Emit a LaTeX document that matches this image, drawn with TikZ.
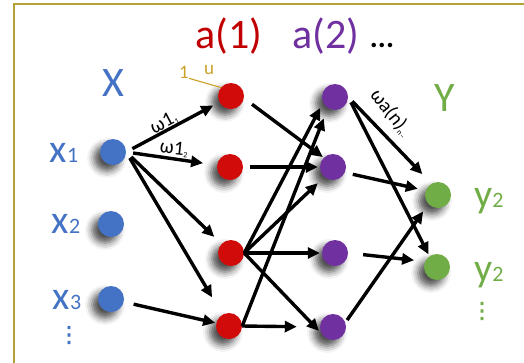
\documentclass[tikz,border=0pt]{standalone}
\usepackage{fontspec}
\setmainfont{Carlito}
\newfontfamily\dotsfont{DejaVu Sans}[FakeBold=2]
\usetikzlibrary{arrows.meta,shadows.blur}
\definecolor{NetBlue}{HTML}{4472C4}
\definecolor{NetRed}{HTML}{C00000}
\definecolor{NetDotRed}{HTML}{D10A0A}
\definecolor{NetPurple}{HTML}{7030A0}
\definecolor{NetGreen}{HTML}{70AD47}
\definecolor{NetGold}{HTML}{C9A227}
\definecolor{NetFrame}{HTML}{B5A136}
\tikzset{
  every node/.style={font=\normalsize},
  neuron/.style={circle, minimum size=26pt, inner sep=0pt,
    blur shadow={shadow xshift=-6pt, shadow yshift=-6pt, shadow blur radius=7pt, shadow opacity=70}},
  layer/.style={font=\fontsize{42}{42}\selectfont, inner sep=0pt},
  side/.style={font=\fontsize{40}{40}\selectfont, inner sep=0pt},
  vdotsnode/.style={font=\dotsfont\fontsize{22}{22}\selectfont, inner sep=0pt},
  weight/.style={font=\fontsize{20}{20}\selectfont, inner sep=0pt, text=black},
  link/.style={-{Triangle[length=12pt,width=11pt]}, draw=black, line width=3.4pt},
}
\newcommand{\smallidx}[1]{{\fontsize{22}{22}\selectfont #1}}
\newcommand{\tinyidx}[1]{\raisebox{-2pt}{\fontsize{8}{8}\selectfont #1}}

\begin{document}
\begin{tikzpicture}[x=1pt,y=-1pt]
  \useasboundingbox (0,0) rectangle (524,362);
  \draw[NetFrame, line width=1.6pt] (530,4) -- (14,4) -- (14,370);
  % input layer X
  \node[neuron, fill=NetBlue] (x1) at (113,152) {};
  \node[neuron, fill=NetBlue] (x2) at (111,224) {};
  \node[neuron, fill=NetBlue] (x3) at (111,299) {};
  \node[layer, text=NetBlue] (xhead) at (113,83) {X};
  \node[side, text=NetBlue, anchor=base] (xlab1) at (64,162) {x\smallidx{1}};
  \node[side, text=NetBlue, anchor=base] (xlab2) at (66,233) {x\smallidx{2}};
  \node[side, text=NetBlue, anchor=base] (xlab3) at (67,309) {x\smallidx{3}};
  \node[vdotsnode, text=NetBlue] (xmore) at (69,335) {⋮};
  % hidden layer a(1)
  \node[neuron, fill=NetDotRed] (r1) at (231,96) {};
  \node[neuron, fill=NetDotRed] (r2) at (230,167) {};
  \node[neuron, fill=NetDotRed] (r3) at (231,253) {};
  \node[neuron, fill=NetDotRed] (r4) at (229,326) {};
  \node[layer, text=NetRed, anchor=base] (rhead) at (229,48) {a(1)};
  \node[font=\fontsize{19}{19}\selectfont, text=NetGold, inner sep=0pt] (one) at (184,72) {1};
  \node[font=\fontsize{19}{19}\selectfont, text=NetGold, inner sep=0pt] (unit) at (209,70) {u};
  \draw[NetGold, line width=1.1pt] (one.south east) -- (r1.140);
  % hidden layer a(2)
  \node[neuron, fill=NetPurple] (p1) at (335,97) {};
  \node[neuron, fill=NetPurple] (p2) at (333,167) {};
  \node[neuron, fill=NetPurple] (p3) at (335,253) {};
  \node[neuron, fill=NetPurple] (p4) at (333,327) {};
  \node[layer, text=NetPurple, anchor=base] (phead) at (326,48) {a(2)};
  \node[font=\fontsize{30}{30}\selectfont\bfseries, anchor=base, inner sep=0pt] (pmore) at (382,47) {...};
  % output layer Y
  \node[neuron, fill=NetGreen] (g1) at (438,195) {};
  \node[neuron, fill=NetGreen] (g2) at (437,267) {};
  \node[layer, text=NetGreen] (yhead) at (445,98) {Y};
  \node[side, text=NetGreen, anchor=base] (ylab1) at (489,207) {y\smallidx{2}};
  \node[side, text=NetGreen, anchor=base] (ylab2) at (489,281) {y\smallidx{2}};
  \node[vdotsnode, text=NetGreen] (ymore) at (482,311) {⋮};
  % X -> a(1)
  \draw[link, shorten <=7pt, shorten >=7pt] (x1.east) -- (r1);
  \draw[link, shorten <=7pt, shorten >=14pt] (x1.east) -- (r2);
  \draw[link, shorten <=7pt, shorten >=10pt] (x1.east) -- (r3);
  \draw[link, shorten <=7pt, shorten >=20pt] (x1.east) -- (r4);
  \draw[link, shorten <=10pt, shorten >=1pt] (x3) -- (r4);
  \node[weight, rotate=28] (w11) at (164,123) {ω1\tinyidx{1}};
  \node[weight, rotate=-6] (w12) at (174,149) {ω1\tinyidx{2}};
  % a(1) -> a(2)
  \draw[link, shorten <=10pt, shorten >=1pt] (r1.-10) -- (p2.135);
  \draw[link, shorten <=7pt, shorten >=2pt] (r2.east) -- (p2.west);
  \draw[link, shorten >=6pt] (r3.east) -- (p1.205);
  \draw[link, shorten >=9pt] (r3.east) -- (p2.229);
  \draw[link, shorten >=2pt] (r3.east) -- (p3.west);
  \draw[link, shorten >=4pt] (r3.east) -- (p4.211);
  \draw[link, shorten >=11pt] (r4.east) -- (p1.237);
  \draw[link, shorten >=23pt] (r4.east) -- (p4.west);
  % a(2) -> Y
  \draw[link, shorten <=6pt, shorten >=13pt] (p1.east) -- (g1.120);
  \draw[link, shorten <=6pt, shorten >=2pt] (p1.east) -- (g2.125);
  \draw[link, shorten <=8pt, shorten >=8pt] (p2.-25) -- (g1.160);
  \draw[link, shorten <=15pt, shorten >=11pt] (p3.east) -- (g2.155);
  \draw[link, shorten <=3pt, shorten >=9pt] (p4.20) -- (g1.223);
  \node[weight, rotate=-52] (wan) at (391,113) {ωa(n)\tinyidx{n–}};
\end{tikzpicture}
\end{document}
